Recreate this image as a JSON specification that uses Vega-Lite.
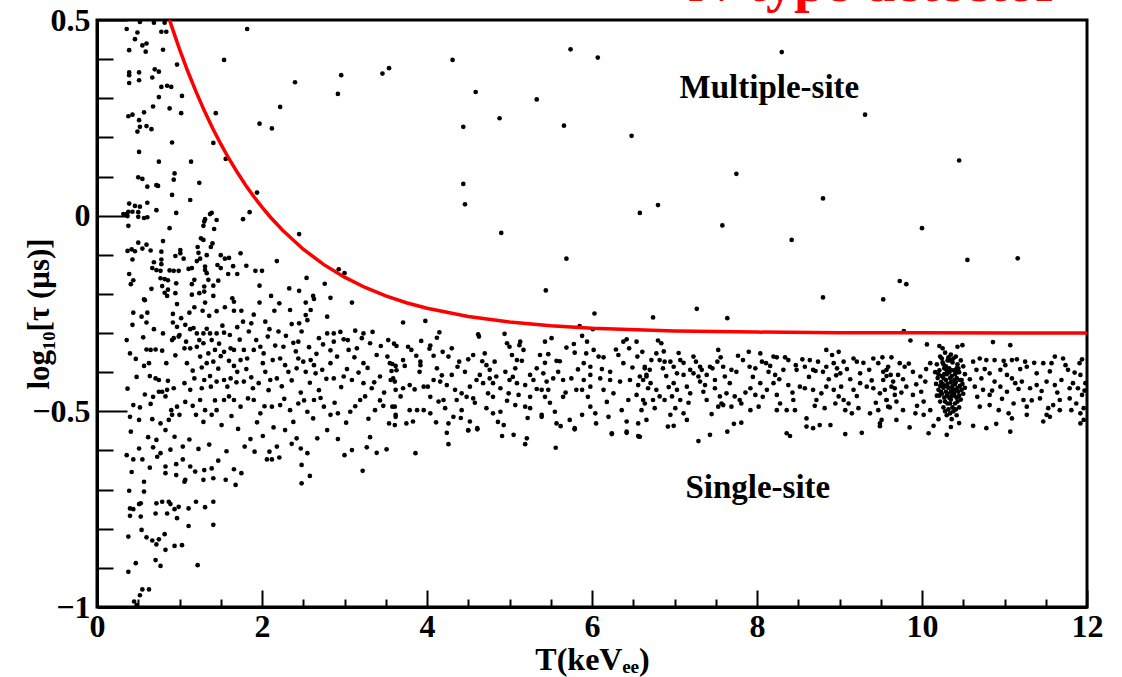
{
"$schema": "https://vega.github.io/schema/vega-lite/v6.json",
"width": 990, "height": 587,
"autosize": {"type": "none"},
"padding": {"left": 97, "top": 20, "right": 35, "bottom": 70},
"config": {"view": {"stroke": "black", "strokeWidth": 3}, "background": "white"},
"resolve": {"axis": {"x": "independent", "y": "independent"}},
"layer": [
{"data": {"values": [
{"t":1.82,"v":0.477},{"t":1.54,"v":0.398},{"t":2.40,"v":0.341},{"t":2.96,"v":0.359},{"t":2.92,"v":0.311},{"t":3.46,"v":0.363},{"t":3.54,"v":0.377},{"t":2.22,"v":0.278},{"t":1.97,"v":0.235},{"t":2.12,"v":0.223},{"t":1.44,"v":0.262},{"t":1.41,"v":0.186},{"t":1.56,"v":0.145},{"t":1.94,"v":0.059},{"t":1.85,"v":0.009},{"t":1.77,"v":-0.009},{"t":2.45,"v":-0.047},{"t":2.18,"v":-0.116},{"t":2.93,"v":-0.137},{"t":3.0,"v":-0.147},{"t":2.54,"v":-0.159},{"t":2.76,"v":-0.174},{"t":2.83,"v":-0.210},{"t":2.33,"v":-0.186},{"t":2.45,"v":-0.192},{"t":2.62,"v":-0.205},{"t":2.63,"v":-0.213},{"t":2.11,"v":-0.205},{"t":1.97,"v":-0.179},
{"t":0.36,"v":0.477},{"t":0.52,"v":0.495},{"t":0.69,"v":0.493},{"t":0.82,"v":0.493},{"t":0.49,"v":0.468},{"t":0.78,"v":0.470},{"t":0.84,"v":0.470},{"t":0.46,"v":0.451},{"t":0.55,"v":0.435},{"t":0.60,"v":0.440},{"t":0.39,"v":0.423},{"t":0.59,"v":0.419},{"t":0.80,"v":0.424},{"t":0.97,"v":0.386},{"t":0.39,"v":0.366},{"t":0.39,"v":0.359},{"t":0.39,"v":0.339},{"t":0.51,"v":0.366},{"t":0.51,"v":0.346},{"t":0.70,"v":0.374},{"t":0.75,"v":0.368},{"t":0.67,"v":0.353},{"t":0.78,"v":0.329},{"t":0.85,"v":0.332},{"t":0.90,"v":0.329},{"t":1.03,"v":0.306},{"t":0.75,"v":0.303},{"t":0.68,"v":0.279},{"t":0.88,"v":0.274},{"t":1.02,"v":0.262},{"t":0.38,"v":0.254},{"t":0.43,"v":0.258},{"t":0.57,"v":0.264},{"t":0.51,"v":0.244},{"t":0.52,"v":0.227},{"t":0.60,"v":0.229},{"t":0.66,"v":0.221},{"t":0.49,"v":0.215},{"t":0.91,"v":0.187},{"t":0.51,"v":0.163},{"t":0.75,"v":0.138},{"t":1.14,"v":0.138},{"t":0.94,"v":0.108},{"t":0.93,"v":0.092},{"t":0.50,"v":0.098},{"t":0.55,"v":0.094},{"t":0.61,"v":0.074},{"t":0.72,"v":0.078},{"t":0.74,"v":0.076},{"t":1.24,"v":0.084},{"t":0.91,"v":0.053},{"t":1.13,"v":0.040},{"t":0.39,"v":0.031},{"t":0.46,"v":0.025},{"t":0.52,"v":0.023},{"t":0.61,"v":0.033},{"t":0.72,"v":0.014},{"t":0.96,"v":0.007},{"t":0.32,"v":0.004},{"t":0.36,"v":0.004},{"t":0.38,"v":0.010},{"t":0.43,"v":0.010},{"t":0.50,"v":0.009},{"t":0.37,"v":-0.001},{"t":0.50,"v":-0.003},{"t":0.57,"v":-0.006},{"t":0.61,"v":-0.004},{"t":0.38,"v":-0.026},{"t":0.88,"v":-0.032},{"t":1.31,"v":-0.009},{"t":1.37,"v":0.004},{"t":1.39,"v":0.007},{"t":1.45,"v":-0.011},{"t":1.30,"v":-0.015},{"t":1.29,"v":-0.026},{"t":1.42,"v":-0.034},{"t":0.80,"v":-0.065},{"t":1.26,"v":-0.058},{"t":1.29,"v":-0.062},{"t":1.22,"v":-0.080},{"t":1.38,"v":-0.080},{"t":1.40,"v":-0.071},{"t":0.37,"v":-0.090},{"t":0.42,"v":-0.086},{"t":0.46,"v":-0.091},{"t":0.50,"v":-0.069},{"t":0.55,"v":-0.084},{"t":0.60,"v":-0.074},{"t":0.65,"v":-0.089},{"t":0.78,"v":-0.092},{"t":0.43,"v":-0.112},{"t":0.95,"v":-0.103},{"t":1.01,"v":-0.088},{"t":1.01,"v":-0.096},{"t":1.05,"v":-0.110},{"t":1.23,"v":-0.095},{"t":0.69,"v":-0.119},{"t":0.78,"v":-0.112},{"t":0.78,"v":-0.124},{"t":0.67,"v":-0.134},{"t":0.72,"v":-0.139},{"t":0.77,"v":-0.141},{"t":0.88,"v":-0.140},{"t":0.93,"v":-0.141},{"t":0.99,"v":-0.141},{"t":0.39,"v":-0.149},{"t":0.44,"v":-0.165},{"t":0.41,"v":-0.175},{"t":0.77,"v":-0.160},{"t":0.82,"v":-0.162},{"t":0.86,"v":-0.165},{"t":0.96,"v":-0.173},{"t":0.79,"v":-0.180},{"t":0.66,"v":-0.187},{"t":0.86,"v":-0.189},{"t":0.82,"v":-0.197},{"t":0.85,"v":-0.205},{"t":0.95,"v":-0.198},{"t":0.57,"v":-0.214},{"t":1.15,"v":-0.202},{"t":1.11,"v":-0.136},{"t":1.15,"v":-0.134},{"t":1.18,"v":-0.164},{"t":1.21,"v":-0.116},{"t":1.25,"v":-0.110},{"t":1.33,"v":-0.101},{"t":1.31,"v":-0.130},{"t":1.31,"v":-0.139},{"t":1.15,"v":-0.175},{"t":1.24,"v":-0.198},{"t":1.30,"v":-0.181},{"t":1.30,"v":-0.194},{"t":1.33,"v":-0.147},{"t":1.35,"v":-0.164},{"t":1.41,"v":-0.179},{"t":1.41,"v":-0.205},{"t":1.46,"v":-0.126},{"t":1.50,"v":-0.134},{"t":1.47,"v":-0.166},{"t":1.50,"v":-0.101},{"t":1.55,"v":-0.110},{"t":1.60,"v":-0.108},{"t":1.65,"v":-0.129},{"t":1.59,"v":-0.149},{"t":1.70,"v":-0.149},{"t":1.74,"v":-0.096},{"t":1.81,"v":-0.128},{"t":1.64,"v":-0.211},{"t":1.92,"v":-0.141},{"t":2.0,"v":-0.141},
{"t":0.58,"v":-0.216},{"t":0.97,"v":-0.226},{"t":1.31,"v":-0.222},{"t":1.66,"v":-0.220},{"t":1.97,"v":-0.222},{"t":2.21,"v":-0.224},{"t":2.53,"v":-0.222},{"t":3.09,"v":-0.222},{"t":0.44,"v":-0.248},{"t":0.54,"v":-0.258},{"t":0.61,"v":-0.248},{"t":0.92,"v":-0.251},{"t":1.12,"v":-0.248},{"t":1.18,"v":-0.234},{"t":1.28,"v":-0.243},{"t":1.36,"v":-0.256},{"t":1.45,"v":-0.244},{"t":1.55,"v":-0.234},{"t":1.66,"v":-0.243},{"t":1.75,"v":-0.243},{"t":1.90,"v":-0.253},{"t":2.15,"v":-0.243},{"t":2.34,"v":-0.241},{"t":2.53,"v":-0.254},{"t":2.59,"v":-0.241},
{"t":0.43,"v":-0.279},{"t":0.60,"v":-0.273},{"t":0.92,"v":-0.273},{"t":0.97,"v":-0.284},{"t":1.07,"v":-0.279},{"t":1.13,"v":-0.290},{"t":1.21,"v":-0.301},{"t":1.29,"v":-0.301},{"t":1.37,"v":-0.301},{"t":1.45,"v":-0.301},{"t":1.54,"v":-0.299},{"t":1.70,"v":-0.285},{"t":1.77,"v":-0.271},{"t":1.87,"v":-0.275},{"t":2.04,"v":-0.271},{"t":2.20,"v":-0.296},{"t":2.36,"v":-0.277},{"t":2.45,"v":-0.275},{"t":2.55,"v":-0.267},{"t":2.79,"v":-0.258},{"t":2.87,"v":-0.301},{"t":3.13,"v":-0.294},{"t":3.23,"v":-0.301},{"t":0.69,"v":-0.290},{"t":0.80,"v":-0.301},{"t":0.91,"v":-0.318},{"t":0.99,"v":-0.309},{"t":1.08,"v":-0.322},
{"t":0.40,"v":-0.352},{"t":0.60,"v":-0.342},{"t":0.65,"v":-0.343},{"t":0.71,"v":-0.342},{"t":0.79,"v":-0.345},{"t":0.93,"v":-0.313},{"t":1.00,"v":-0.305},{"t":1.06,"v":-0.339},{"t":1.13,"v":-0.339},{"t":1.21,"v":-0.335},{"t":1.29,"v":-0.326},{"t":1.39,"v":-0.318},{"t":1.43,"v":-0.343},{"t":1.54,"v":-0.348},{"t":1.62,"v":-0.339},{"t":1.66,"v":-0.343},{"t":1.78,"v":-0.343},{"t":1.90,"v":-0.343},{"t":1.98,"v":-0.335},{"t":2.09,"v":-0.290},{"t":2.13,"v":-0.369},{"t":2.22,"v":-0.365},{"t":2.26,"v":-0.335},{"t":2.38,"v":-0.325},{"t":2.44,"v":-0.322},{"t":2.50,"v":-0.373},{"t":2.59,"v":-0.369},{"t":2.69,"v":-0.313},{"t":2.79,"v":-0.301},{"t":2.87,"v":-0.322},{"t":2.99,"v":-0.316},{"t":3.05,"v":-0.343},{"t":3.15,"v":-0.339},{"t":3.23,"v":-0.377},{"t":3.31,"v":-0.326},{"t":3.39,"v":-0.356},{"t":3.52,"v":-0.360},{"t":3.58,"v":-0.379},{"t":0.57,"v":-0.384},{"t":0.63,"v":-0.377},{"t":1.25,"v":-0.360},{"t":1.35,"v":-0.352},{"t":1.41,"v":-0.373},{"t":1.50,"v":-0.359},{"t":1.60,"v":-0.371},{"t":1.66,"v":-0.384},{"t":1.74,"v":-0.369},{"t":1.82,"v":-0.365},{"t":1.33,"v":-0.377},{"t":2.28,"v":-0.382},{"t":2.44,"v":-0.365},{"t":2.63,"v":-0.382},{"t":2.83,"v":-0.377},{"t":2.91,"v":-0.360},
{"t":0.64,"v":-0.410},{"t":0.71,"v":-0.416},{"t":0.75,"v":-0.420},{"t":0.86,"v":-0.422},{"t":0.85,"v":-0.445},{"t":0.79,"v":-0.450},{"t":0.93,"v":-0.441},{"t":1.06,"v":-0.428},{"t":1.18,"v":-0.416},{"t":1.27,"v":-0.441},{"t":1.30,"v":-0.420},{"t":1.37,"v":-0.410},{"t":1.45,"v":-0.424},{"t":1.54,"v":-0.420},{"t":1.62,"v":-0.416},{"t":1.70,"v":-0.399},{"t":1.78,"v":-0.424},{"t":1.87,"v":-0.413},{"t":1.96,"v":-0.428},{"t":2.04,"v":-0.399},{"t":2.10,"v":-0.420},{"t":2.18,"v":-0.416},{"t":2.32,"v":-0.399},{"t":2.42,"v":-0.390},{"t":2.53,"v":-0.399},{"t":2.65,"v":-0.403},{"t":2.73,"v":-0.394},{"t":2.87,"v":-0.416},{"t":2.99,"v":-0.411},{"t":3.09,"v":-0.420},{"t":3.23,"v":-0.428},{"t":3.33,"v":-0.441},{"t":3.43,"v":-0.411},{"t":3.56,"v":-0.420},{"t":3.62,"v":-0.445},{"t":0.44,"v":-0.484},{"t":0.52,"v":-0.490},{"t":0.40,"v":-0.514},{"t":0.65,"v":-0.481},{"t":0.75,"v":-0.450},{"t":0.83,"v":-0.462},{"t":0.90,"v":-0.497},{"t":0.97,"v":-0.488},{"t":1.00,"v":-0.509},{"t":0.91,"v":-0.509},{"t":1.13,"v":-0.445},{"t":1.20,"v":-0.509},{"t":1.25,"v":-0.471},{"t":1.31,"v":-0.497},{"t":1.39,"v":-0.509},{"t":1.45,"v":-0.497},{"t":1.54,"v":-0.471},{"t":1.60,"v":-0.462},{"t":1.66,"v":-0.471},{"t":1.74,"v":-0.488},{"t":1.90,"v":-0.471},{"t":1.98,"v":-0.505},{"t":2.12,"v":-0.488},{"t":2.22,"v":-0.484},{"t":2.34,"v":-0.497},{"t":2.44,"v":-0.480},{"t":2.55,"v":-0.501},{"t":2.63,"v":-0.471},{"t":2.75,"v":-0.488},{"t":2.83,"v":-0.509},{"t":2.92,"v":-0.505},{"t":3.07,"v":-0.501},{"t":3.19,"v":-0.471},{"t":3.25,"v":-0.462},{"t":3.37,"v":-0.497},{"t":3.47,"v":-0.486},{"t":3.58,"v":-0.488},{"t":0.51,"v":-0.522},{"t":0.41,"v":-0.552},{"t":0.67,"v":-0.520},{"t":0.77,"v":-0.531},
{"t":0.44,"v":-0.623},{"t":0.55,"v":-0.623},{"t":0.64,"v":-0.644},{"t":0.73,"v":-0.616},{"t":0.77,"v":-0.607},{"t":0.83,"v":-0.641},{"t":0.83,"v":-0.658},{"t":0.96,"v":-0.635},{"t":1.04,"v":-0.623},{"t":0.96,"v":-0.663},{"t":1.07,"v":-0.675},{"t":1.13,"v":-0.641},{"t":1.19,"v":-0.654},{"t":1.30,"v":-0.650},{"t":1.29,"v":-0.675},{"t":1.39,"v":-0.646},{"t":1.41,"v":-0.671},{"t":1.47,"v":-0.626},{"t":1.56,"v":-0.675},{"t":1.66,"v":-0.648},{"t":1.68,"v":-0.688},{"t":1.75,"v":-0.658},{"t":1.79,"v":-0.590},{"t":1.91,"v":-0.603},{"t":2.01,"v":-0.563},{"t":2.09,"v":-0.603},{"t":2.12,"v":-0.623},{"t":2.06,"v":-0.623},{"t":2.18,"v":-0.590},{"t":2.28,"v":-0.548},{"t":2.42,"v":-0.569},{"t":2.47,"v":-0.595},{"t":2.48,"v":-0.637},{"t":2.58,"v":-0.665},{"t":2.48,"v":-0.684},{"t":2.55,"v":-0.607},{"t":2.67,"v":-0.569},{"t":2.79,"v":-0.548},{"t":3.00,"v":-0.612},{"t":3.09,"v":-0.599},{"t":3.22,"v":-0.652},{"t":3.27,"v":-0.592},{"t":3.39,"v":-0.606},{"t":3.51,"v":-0.597},{"t":0.51,"v":-0.595},{"t":0.57,"v":-0.680},{"t":0.72,"v":-0.573},{"t":0.83,"v":-0.548},{"t":0.94,"v":-0.565},{"t":1.04,"v":-0.590},{"t":1.06,"v":-0.680},
{"t":0.39,"v":-0.703},{"t":0.57,"v":-0.705},{"t":0.40,"v":-0.748},{"t":0.44,"v":-0.750},{"t":0.51,"v":-0.737},{"t":0.53,"v":-0.735},{"t":0.40,"v":-0.767},{"t":0.53,"v":-0.769},{"t":0.72,"v":-0.735},{"t":0.71,"v":-0.761},{"t":0.79,"v":-0.731},{"t":0.87,"v":-0.731},{"t":0.89,"v":-0.737},{"t":0.85,"v":-0.761},{"t":0.94,"v":-0.750},{"t":0.99,"v":-0.744},{"t":0.97,"v":-0.773},{"t":1.11,"v":-0.748},{"t":1.20,"v":-0.731},{"t":1.31,"v":-0.745},{"t":1.41,"v":-0.731},{"t":1.11,"v":-0.793},{"t":1.41,"v":-0.790},{"t":0.54,"v":-0.803},{"t":0.38,"v":-0.820},{"t":0.60,"v":-0.822},{"t":0.67,"v":-0.830},{"t":0.72,"v":-0.840},{"t":0.75,"v":-0.827},{"t":0.82,"v":-0.814},{"t":0.83,"v":-0.854},{"t":0.94,"v":-0.844},{"t":1.03,"v":-0.842},{"t":0.71,"v":-0.880},{"t":0.77,"v":-0.895},{"t":0.47,"v":-0.888},{"t":0.38,"v":-0.910},{"t":1.22,"v":-0.893},{"t":0.55,"v":-0.955},{"t":0.63,"v":-0.955},{"t":0.52,"v":-0.970},{"t":0.45,"v":-0.986},{"t":0.48,"v":-0.995},
{"t":4.31,"v":0.398},{"t":5.74,"v":0.425},{"t":6.07,"v":0.404},{"t":8.30,"v":0.418},{"t":4.59,"v":0.316},{"t":5.33,"v":0.297},{"t":4.88,"v":0.249},{"t":4.44,"v":0.227},{"t":5.66,"v":0.230},{"t":6.48,"v":0.204},{"t":9.31,"v":0.258},{"t":7.75,"v":0.107},{"t":10.45,"v":0.141},{"t":4.44,"v":0.081},{"t":4.46,"v":0.029},{"t":6.80,"v":0.027},{"t":6.58,"v":0.007},{"t":8.80,"v":0.044},{"t":4.90,"v":-0.044},{"t":7.58,"v":-0.025},{"t":8.42,"v":-0.062},{"t":10.0,"v":-0.032},{"t":10.55,"v":-0.113},{"t":11.16,"v":-0.109},{"t":5.69,"v":-0.110},{"t":9.73,"v":-0.167},{"t":9.81,"v":-0.175},{"t":5.44,"v":-0.191},{"t":8.80,"v":-0.209},{"t":9.53,"v":-0.214},{"t":6.03,"v":-0.250},{"t":6.74,"v":-0.260},{"t":7.27,"v":-0.238},{"t":7.64,"v":-0.262},{"t":3.71,"v":-0.273},{"t":3.98,"v":-0.269},
{"t":4.15,"v":-0.298},{"t":4.12,"v":-0.312},{"t":4.62,"v":-0.303},{"t":4.63,"v":-0.309},{"t":4.94,"v":-0.302},{"t":3.60,"v":-0.327},{"t":3.63,"v":-0.333},{"t":3.77,"v":-0.335},{"t":3.81,"v":-0.343},{"t":3.93,"v":-0.320},{"t":4.04,"v":-0.332},{"t":4.03,"v":-0.340},{"t":4.19,"v":-0.348},{"t":4.30,"v":-0.339},{"t":4.26,"v":-0.360},{"t":3.71,"v":-0.369},{"t":3.55,"v":-0.377},{"t":3.62,"v":-0.384},{"t":3.73,"v":-0.384},{"t":3.92,"v":-0.373},{"t":3.92,"v":-0.382},{"t":4.08,"v":-0.358},{"t":4.39,"v":-0.373},{"t":4.50,"v":-0.367},{"t":4.56,"v":-0.356},{"t":4.70,"v":-0.352},{"t":4.97,"v":-0.326},{"t":5.00,"v":-0.335},{"t":5.13,"v":-0.322},{"t":5.12,"v":-0.331},{"t":5.17,"v":-0.343},{"t":5.03,"v":-0.356},{"t":5.09,"v":-0.369},{"t":5.43,"v":-0.322},{"t":5.51,"v":-0.313},{"t":5.47,"v":-0.354},{"t":5.57,"v":-0.371},{"t":5.43,"v":-0.376},{"t":5.33,"v":-0.390},{"t":5.69,"v":-0.337},{"t":5.78,"v":-0.328},{"t":5.79,"v":-0.350},{"t":5.88,"v":-0.307},{"t":5.94,"v":-0.322},{"t":5.93,"v":-0.352},{"t":5.90,"v":-0.377},{"t":6.02,"v":-0.343},{"t":6.08,"v":-0.360},{"t":6.14,"v":-0.362},{"t":5.98,"v":-0.386},{"t":6.38,"v":-0.322},{"t":6.42,"v":-0.316},{"t":6.54,"v":-0.322},{"t":6.45,"v":-0.339},{"t":6.55,"v":-0.360},{"t":6.32,"v":-0.356},{"t":6.22,"v":-0.399},{"t":6.38,"v":-0.377},{"t":6.64,"v":-0.390},{"t":6.58,"v":-0.411},{"t":5.85,"v":-0.282},{"t":6.01,"v":-0.290},
{"t":3.59,"v":-0.416},{"t":3.61,"v":-0.424},{"t":3.71,"v":-0.441},{"t":3.79,"v":-0.433},{"t":3.85,"v":-0.444},{"t":3.96,"v":-0.437},{"t":4.08,"v":-0.420},{"t":4.16,"v":-0.424},{"t":4.24,"v":-0.433},{"t":4.34,"v":-0.445},{"t":4.42,"v":-0.454},{"t":4.52,"v":-0.437},{"t":4.60,"v":-0.420},{"t":4.68,"v":-0.428},{"t":4.76,"v":-0.416},{"t":4.84,"v":-0.411},{"t":4.80,"v":-0.428},{"t":4.89,"v":-0.441},{"t":5.00,"v":-0.420},{"t":5.09,"v":-0.428},{"t":5.19,"v":-0.433},{"t":5.29,"v":-0.420},{"t":5.41,"v":-0.403},{"t":5.45,"v":-0.424},{"t":5.53,"v":-0.416},{"t":5.65,"v":-0.420},{"t":5.75,"v":-0.416},{"t":5.90,"v":-0.420},{"t":5.98,"v":-0.407},{"t":6.10,"v":-0.416},{"t":6.22,"v":-0.420},{"t":6.34,"v":-0.424},{"t":6.46,"v":-0.420},{"t":6.56,"v":-0.433},{"t":6.66,"v":-0.411},
{"t":3.63,"v":-0.395},{"t":3.91,"v":-0.399},{"t":4.12,"v":-0.390},{"t":4.30,"v":-0.407},{"t":4.46,"v":-0.399},{"t":4.72,"v":-0.382},{"t":4.76,"v":-0.394},{"t":4.82,"v":-0.373},{"t":4.64,"v":-0.407},{"t":4.95,"v":-0.399},{"t":5.07,"v":-0.390},{"t":5.25,"v":-0.407},{"t":5.39,"v":-0.445},{"t":5.47,"v":-0.445},{"t":5.59,"v":-0.399},{"t":5.81,"v":-0.445},{"t":5.88,"v":-0.445},{"t":5.98,"v":-0.437},{"t":6.14,"v":-0.445},{"t":6.26,"v":-0.454},{"t":6.44,"v":-0.471},{"t":6.54,"v":-0.458},{"t":6.62,"v":-0.471},{"t":4.04,"v":-0.463},{"t":4.20,"v":-0.471},{"t":4.36,"v":-0.471},{"t":4.48,"v":-0.463},{"t":4.56,"v":-0.467},{"t":4.80,"v":-0.463},{"t":4.99,"v":-0.454},{"t":5.11,"v":-0.458},{"t":5.25,"v":-0.463},{"t":5.43,"v":-0.463},{"t":5.65,"v":-0.463},
{"t":3.61,"v":-0.488},{"t":3.62,"v":-0.514},{"t":3.61,"v":-0.535},{"t":3.79,"v":-0.497},{"t":3.83,"v":-0.526},{"t":3.75,"v":-0.531},{"t":3.96,"v":-0.497},{"t":4.04,"v":-0.505},{"t":4.14,"v":-0.475},{"t":4.22,"v":-0.492},{"t":4.32,"v":-0.514},{"t":4.26,"v":-0.531},{"t":4.42,"v":-0.497},{"t":4.52,"v":-0.526},{"t":4.50,"v":-0.548},{"t":4.61,"v":-0.543},{"t":4.72,"v":-0.492},{"t":4.80,"v":-0.505},{"t":4.89,"v":-0.501},{"t":4.93,"v":-0.535},{"t":5.07,"v":-0.484},{"t":5.19,"v":-0.488},{"t":5.25,"v":-0.492},{"t":5.39,"v":-0.509},{"t":5.39,"v":-0.514},{"t":5.55,"v":-0.501},{"t":5.57,"v":-0.531},{"t":5.62,"v":-0.538},{"t":5.73,"v":-0.522},{"t":5.79,"v":-0.543},{"t":5.88,"v":-0.509},{"t":5.98,"v":-0.488},{"t":6.04,"v":-0.505},{"t":6.20,"v":-0.514},{"t":6.24,"v":-0.556},{"t":6.42,"v":-0.526},{"t":6.42,"v":-0.552},{"t":6.56,"v":-0.531},{"t":6.56,"v":-0.563},{"t":3.62,"v":-0.509},{"t":3.88,"v":-0.497},
{"t":3.86,"v":-0.607},{"t":4.24,"v":-0.555},{"t":4.26,"v":-0.584},{"t":4.50,"v":-0.549},{"t":4.61,"v":-0.546},{"t":4.91,"v":-0.563},{"t":5.05,"v":-0.560},{"t":5.21,"v":-0.569},{"t":5.19,"v":-0.584},{"t":5.56,"v":-0.593},{"t":5.79,"v":-0.546},{"t":6.24,"v":-0.558},{"t":6.42,"v":-0.555},{"t":6.57,"v":-0.565},
{"t":6.80,"v":-0.319},{"t":6.84,"v":-0.326},{"t":6.78,"v":-0.352},{"t":6.72,"v":-0.369},{"t":6.82,"v":-0.369},{"t":6.88,"v":-0.373},{"t":6.95,"v":-0.373},{"t":6.64,"v":-0.386},{"t":6.70,"v":-0.394},{"t":6.66,"v":-0.407},{"t":6.86,"v":-0.390},{"t":6.99,"v":-0.386},{"t":7.07,"v":-0.369},{"t":7.11,"v":-0.376},{"t":7.23,"v":-0.360},{"t":7.19,"v":-0.394},{"t":7.11,"v":-0.407},{"t":7.31,"v":-0.386},{"t":7.33,"v":-0.394},{"t":7.43,"v":-0.386},{"t":7.46,"v":-0.390},{"t":7.53,"v":-0.343},{"t":7.52,"v":-0.373},{"t":7.59,"v":-0.386},{"t":7.69,"v":-0.394},{"t":7.83,"v":-0.369},{"t":7.90,"v":-0.348},{"t":7.91,"v":-0.386},{"t":8.04,"v":-0.352},{"t":8.06,"v":-0.373},{"t":8.11,"v":-0.377},{"t":8.20,"v":-0.360},{"t":8.24,"v":-0.362},{"t":8.14,"v":-0.399},{"t":8.22,"v":-0.407},{"t":8.38,"v":-0.369},{"t":8.47,"v":-0.382},{"t":8.48,"v":-0.394},{"t":8.58,"v":-0.386},{"t":8.64,"v":-0.369},{"t":8.74,"v":-0.373},{"t":8.84,"v":-0.343},{"t":8.91,"v":-0.356},{"t":8.99,"v":-0.348},{"t":8.93,"v":-0.377},{"t":9.05,"v":-0.373},{"t":8.97,"v":-0.390},{"t":9.01,"v":-0.403},{"t":9.17,"v":-0.365},{"t":9.21,"v":-0.373},{"t":9.41,"v":-0.365},{"t":9.47,"v":-0.377},{"t":9.53,"v":-0.399},{"t":9.59,"v":-0.386},{"t":9.57,"v":-0.410},{"t":9.36,"v":-0.394},{"t":9.25,"v":-0.403},{"t":8.84,"v":-0.386},{"t":8.80,"v":-0.399},{"t":8.68,"v":-0.394},{"t":8.32,"v":-0.394},{"t":7.98,"v":-0.390},{"t":7.75,"v":-0.399},{"t":7.61,"v":-0.411},{"t":7.49,"v":-0.420},{"t":7.39,"v":-0.407},{"t":7.29,"v":-0.411},{"t":7.23,"v":-0.403},{"t":7.03,"v":-0.403},{"t":6.90,"v":-0.410},
{"t":6.62,"v":-0.420},{"t":6.68,"v":-0.441},{"t":6.78,"v":-0.445},{"t":6.74,"v":-0.471},{"t":6.64,"v":-0.480},{"t":6.82,"v":-0.462},{"t":6.88,"v":-0.471},{"t":6.99,"v":-0.428},{"t":7.03,"v":-0.445},{"t":6.97,"v":-0.462},{"t":7.07,"v":-0.471},{"t":7.01,"v":-0.492},{"t":7.15,"v":-0.437},{"t":7.19,"v":-0.454},{"t":7.31,"v":-0.424},{"t":7.35,"v":-0.450},{"t":7.39,"v":-0.471},{"t":7.49,"v":-0.441},{"t":7.55,"v":-0.462},{"t":7.57,"v":-0.480},{"t":7.63,"v":-0.454},{"t":7.73,"v":-0.462},{"t":7.79,"v":-0.471},{"t":7.92,"v":-0.441},{"t":7.98,"v":-0.458},{"t":8.04,"v":-0.428},{"t":8.12,"v":-0.445},{"t":8.20,"v":-0.428},{"t":8.24,"v":-0.458},{"t":8.28,"v":-0.480},{"t":8.38,"v":-0.433},{"t":8.44,"v":-0.471},{"t":8.52,"v":-0.437},{"t":8.58,"v":-0.441},{"t":8.68,"v":-0.445},{"t":8.72,"v":-0.471},{"t":8.78,"v":-0.454},{"t":8.84,"v":-0.437},{"t":8.93,"v":-0.445},{"t":8.99,"v":-0.462},{"t":9.05,"v":-0.471},{"t":9.11,"v":-0.480},{"t":9.17,"v":-0.445},{"t":9.25,"v":-0.428},{"t":9.33,"v":-0.437},{"t":9.41,"v":-0.441},{"t":9.49,"v":-0.454},{"t":9.57,"v":-0.471},{"t":9.63,"v":-0.437},{"t":6.60,"v":-0.497},{"t":6.76,"v":-0.492},{"t":6.95,"v":-0.509},{"t":7.11,"v":-0.505},{"t":7.53,"v":-0.488},{"t":7.59,"v":-0.484},{"t":7.69,"v":-0.488},{"t":7.81,"v":-0.480},{"t":7.92,"v":-0.497},{"t":8.02,"v":-0.488},{"t":8.24,"v":-0.497},{"t":8.36,"v":-0.497},{"t":8.46,"v":-0.497},{"t":8.60,"v":-0.518},{"t":8.70,"v":-0.486},{"t":8.82,"v":-0.492},{"t":8.95,"v":-0.480},{"t":9.07,"v":-0.497},{"t":9.15,"v":-0.505},{"t":9.23,"v":-0.492},{"t":9.37,"v":-0.505},{"t":9.47,"v":-0.497},{"t":9.59,"v":-0.488},
{"t":6.66,"v":-0.522},{"t":6.92,"v":-0.539},{"t":6.99,"v":-0.537},{"t":7.15,"v":-0.522},{"t":7.43,"v":-0.560},{"t":7.64,"v":-0.552},{"t":7.72,"v":-0.532},{"t":7.81,"v":-0.529},{"t":8.36,"v":-0.556},{"t":8.40,"v":-0.563},{"t":8.60,"v":-0.539},{"t":8.68,"v":-0.543},{"t":8.76,"v":-0.535},{"t":8.89,"v":-0.535},{"t":9.07,"v":-0.558},{"t":9.27,"v":-0.555},{"t":9.49,"v":-0.538},{"t":9.49,"v":-0.531},{"t":7.29,"v":-0.576},{"t":6.58,"v":-0.565},
{"t":9.78,"v":-0.295},{"t":9.86,"v":-0.319},{"t":10.06,"v":-0.329},{"t":10.21,"v":-0.333},{"t":10.25,"v":-0.339},{"t":10.43,"v":-0.335},{"t":10.49,"v":-0.331},{"t":10.86,"v":-0.323},{"t":11.07,"v":-0.331},
{"t":9.63,"v":-0.362},{"t":9.73,"v":-0.377},{"t":9.79,"v":-0.386},{"t":9.57,"v":-0.394},{"t":9.71,"v":-0.407},{"t":9.53,"v":-0.420},{"t":9.65,"v":-0.424},{"t":9.77,"v":-0.418},{"t":9.89,"v":-0.399},{"t":9.98,"v":-0.411},{"t":10.04,"v":-0.424},{"t":10.10,"v":-0.377},{"t":9.55,"v":-0.445},{"t":9.67,"v":-0.441},{"t":9.81,"v":-0.437},{"t":9.89,"v":-0.458},{"t":9.99,"v":-0.450},{"t":9.57,"v":-0.471},{"t":9.69,"v":-0.475},{"t":9.61,"v":-0.490},{"t":9.77,"v":-0.497},{"t":9.94,"v":-0.486},{"t":10.02,"v":-0.475},{"t":10.10,"v":-0.497},{"t":9.51,"v":-0.522},{"t":9.69,"v":-0.522},{"t":9.85,"v":-0.541},{"t":10.08,"v":-0.556},{"t":10.14,"v":-0.537},{"t":10.02,"v":-0.509},{"t":9.92,"v":-0.505},{"t":9.67,"v":-0.458},
{"t":10.62,"v":-0.373},{"t":10.70,"v":-0.365},{"t":10.78,"v":-0.369},{"t":10.88,"v":-0.369},{"t":10.99,"v":-0.371},{"t":11.09,"v":-0.369},{"t":11.15,"v":-0.367},{"t":11.25,"v":-0.373},{"t":11.27,"v":-0.386},{"t":11.39,"v":-0.403},{"t":11.47,"v":-0.377},{"t":11.57,"v":-0.377},{"t":11.61,"v":-0.360},{"t":11.71,"v":-0.365},{"t":11.77,"v":-0.394},{"t":11.85,"v":-0.401},{"t":11.94,"v":-0.367},{"t":11.92,"v":-0.407},{"t":11.98,"v":-0.428},{"t":10.66,"v":-0.394},{"t":10.72,"v":-0.416},{"t":10.82,"v":-0.403},{"t":10.88,"v":-0.424},{"t":10.95,"v":-0.394},{"t":11.03,"v":-0.407},{"t":11.09,"v":-0.416},{"t":11.13,"v":-0.428},{"t":11.21,"v":-0.424},{"t":11.31,"v":-0.441},{"t":11.39,"v":-0.433},{"t":11.51,"v":-0.424},{"t":11.61,"v":-0.433},{"t":11.69,"v":-0.420},{"t":11.79,"v":-0.441},{"t":11.89,"v":-0.441},{"t":11.94,"v":-0.458},{"t":10.64,"v":-0.437},{"t":10.74,"v":-0.445},{"t":10.82,"v":-0.458},{"t":10.95,"v":-0.437},{"t":11.03,"v":-0.450},{"t":11.11,"v":-0.480},{"t":11.23,"v":-0.471},{"t":11.27,"v":-0.488},{"t":11.43,"v":-0.467},{"t":11.53,"v":-0.492},{"t":11.59,"v":-0.484},{"t":11.67,"v":-0.471},{"t":11.79,"v":-0.467},{"t":11.87,"v":-0.480},{"t":11.96,"v":-0.492},{"t":10.70,"v":-0.488},{"t":10.82,"v":-0.484},{"t":10.93,"v":-0.497},{"t":11.05,"v":-0.505},{"t":11.09,"v":-0.518},{"t":11.27,"v":-0.509},{"t":11.51,"v":-0.509},{"t":11.55,"v":-0.514},{"t":11.67,"v":-0.497},{"t":11.81,"v":-0.497},{"t":11.92,"v":-0.505},{"t":11.96,"v":-0.522},{"t":11.92,"v":-0.531},{"t":11.47,"v":-0.526},{"t":11.07,"v":-0.552},{"t":10.90,"v":-0.532},{"t":10.78,"v":-0.543},{"t":10.62,"v":-0.537},
{"t":10.22,"v":-0.36},{"t":10.28,"v":-0.35},{"t":10.35,"v":-0.355},{"t":10.41,"v":-0.36},{"t":10.47,"v":-0.37},{"t":10.18,"v":-0.38},{"t":10.25,"v":-0.375},{"t":10.31,"v":-0.37},{"t":10.37,"v":-0.375},{"t":10.43,"v":-0.38},{"t":10.50,"v":-0.385},{"t":10.16,"v":-0.40},{"t":10.21,"v":-0.395},{"t":10.27,"v":-0.39},{"t":10.33,"v":-0.39},{"t":10.39,"v":-0.395},{"t":10.45,"v":-0.40},{"t":10.52,"v":-0.405},{"t":10.19,"v":-0.415},{"t":10.24,"v":-0.41},{"t":10.30,"v":-0.405},{"t":10.36,"v":-0.41},{"t":10.42,"v":-0.415},{"t":10.48,"v":-0.42},{"t":10.17,"v":-0.43},{"t":10.23,"v":-0.425},{"t":10.29,"v":-0.42},{"t":10.35,"v":-0.425},{"t":10.40,"v":-0.43},{"t":10.46,"v":-0.435},{"t":10.52,"v":-0.44},{"t":10.20,"v":-0.445},{"t":10.26,"v":-0.44},{"t":10.32,"v":-0.44},{"t":10.38,"v":-0.445},{"t":10.44,"v":-0.45},{"t":10.50,"v":-0.455},{"t":10.18,"v":-0.46},{"t":10.24,"v":-0.455},{"t":10.30,"v":-0.46},{"t":10.36,"v":-0.46},{"t":10.42,"v":-0.465},{"t":10.47,"v":-0.47},{"t":10.22,"v":-0.475},{"t":10.28,"v":-0.475},{"t":10.34,"v":-0.48},{"t":10.40,"v":-0.48},{"t":10.45,"v":-0.49},{"t":10.26,"v":-0.49},{"t":10.32,"v":-0.495},{"t":10.38,"v":-0.50},{"t":10.30,"v":-0.51},{"t":10.36,"v":-0.52},{"t":10.42,"v":-0.51},{"t":10.33,"v":-0.40},{"t":10.27,"v":-0.405},{"t":10.39,"v":-0.42},{"t":10.31,"v":-0.43},{"t":10.37,"v":-0.435},{"t":10.29,"v":-0.45},{"t":10.35,"v":-0.45},{"t":10.41,"v":-0.445},{"t":10.33,"v":-0.465},{"t":10.39,"v":-0.46},{"t":10.25,"v":-0.43},{"t":10.43,"v":-0.40},{"t":10.34,"v":-0.37},{"t":10.29,"v":-0.385},{"t":10.40,"v":-0.405},{"t":10.46,"v":-0.42},{"t":10.21,"v":-0.46},{"t":10.35,"v":-0.54},{"t":10.30,"v":-0.56},{"t":10.45,"v":-0.53},{"t":10.20,"v":-0.52},
{"t":1.02,"v":-0.262},{"t":1.17,"v":-0.287},{"t":1.24,"v":-0.318},{"t":1.33,"v":-0.289},{"t":1.48,"v":-0.327},{"t":1.52,"v":-0.281},{"t":1.61,"v":-0.305},{"t":1.73,"v":-0.317},{"t":1.84,"v":-0.296},{"t":1.93,"v":-0.318},{"t":2.02,"v":-0.352},{"t":2.07,"v":-0.309},{"t":2.16,"v":-0.332},{"t":2.29,"v":-0.307},{"t":2.41,"v":-0.347},{"t":2.48,"v":-0.296},{"t":2.57,"v":-0.336},{"t":2.66,"v":-0.353},{"t":2.74,"v":-0.329},{"t":2.83,"v":-0.344},{"t":2.95,"v":-0.297},{"t":3.04,"v":-0.318},{"t":3.12,"v":-0.362},{"t":3.21,"v":-0.313},{"t":3.34,"v":-0.297},{"t":3.44,"v":-0.333},{"t":3.53,"v":-0.318},
{"t":1.09,"v":-0.377},{"t":1.16,"v":-0.396},{"t":1.27,"v":-0.388},{"t":1.38,"v":-0.437},{"t":1.47,"v":-0.391},{"t":1.58,"v":-0.437},{"t":1.69,"v":-0.426},{"t":1.81,"v":-0.392},{"t":1.89,"v":-0.441},{"t":2.01,"v":-0.377},{"t":2.08,"v":-0.446},{"t":2.24,"v":-0.436},{"t":2.36,"v":-0.421},{"t":2.47,"v":-0.452},{"t":2.58,"v":-0.427},{"t":2.69,"v":-0.446},{"t":2.78,"v":-0.417},{"t":2.96,"v":-0.438},{"t":3.03,"v":-0.392},{"t":3.17,"v":-0.401},{"t":3.28,"v":-0.389},{"t":3.36,"v":-0.426},{"t":3.48,"v":-0.452},{"t":3.57,"v":-0.397},
{"t":1.07,"v":-0.476},{"t":1.16,"v":-0.486},{"t":1.29,"v":-0.527},{"t":1.43,"v":-0.472},{"t":1.51,"v":-0.535},{"t":1.63,"v":-0.512},{"t":1.71,"v":-0.545},{"t":1.83,"v":-0.467},{"t":1.94,"v":-0.528},{"t":2.03,"v":-0.487},{"t":2.14,"v":-0.541},{"t":2.27,"v":-0.468},{"t":2.38,"v":-0.527},{"t":2.51,"v":-0.472},{"t":2.62,"v":-0.518},{"t":2.71,"v":-0.466},{"t":2.88,"v":-0.478},{"t":3.02,"v":-0.529},{"t":3.13,"v":-0.487},{"t":3.29,"v":-0.519},{"t":3.43,"v":-0.472},{"t":3.54,"v":-0.531},
{"t":1.12,"v":-0.572},{"t":1.23,"v":-0.596},{"t":1.36,"v":-0.585},{"t":1.57,"v":-0.602},{"t":1.86,"v":-0.571},{"t":2.21,"v":-0.618},{"t":2.36,"v":-0.583},{"t":2.92,"v":-0.571},{"t":3.31,"v":-0.566},
{"t":0.36,"v":-0.318},{"t":0.47,"v":-0.366},{"t":0.56,"v":-0.311},{"t":0.84,"v":-0.377},{"t":0.95,"v":-0.357},{"t":0.37,"v":-0.442},{"t":0.48,"v":-0.412},{"t":0.58,"v":-0.457},{"t":0.68,"v":-0.463},{"t":0.87,"v":-0.522},{"t":0.62,"v":-0.566},{"t":0.42,"v":-0.655},{"t":0.68,"v":-0.592},{"t":0.89,"v":-0.598},{"t":0.36,"v":-0.612},
{"t":3.68,"v":-0.462},{"t":3.87,"v":-0.358},{"t":4.01,"v":-0.437},{"t":4.11,"v":-0.528},{"t":4.18,"v":-0.408},{"t":4.37,"v":-0.386},{"t":4.41,"v":-0.517},{"t":4.58,"v":-0.478},{"t":4.67,"v":-0.372},{"t":4.74,"v":-0.454},{"t":4.86,"v":-0.527},{"t":4.97,"v":-0.473},{"t":5.04,"v":-0.412},{"t":5.15,"v":-0.371},{"t":5.22,"v":-0.517},{"t":5.33,"v":-0.443},{"t":5.37,"v":-0.356},{"t":5.49,"v":-0.478},{"t":5.61,"v":-0.372},{"t":5.68,"v":-0.452},{"t":5.83,"v":-0.393},{"t":5.95,"v":-0.463},{"t":6.05,"v":-0.531},{"t":6.12,"v":-0.392},{"t":6.18,"v":-0.476},{"t":6.29,"v":-0.342},{"t":6.36,"v":-0.497},{"t":6.49,"v":-0.388},{"t":6.61,"v":-0.348},{"t":6.71,"v":-0.428},{"t":6.87,"v":-0.347},{"t":6.93,"v":-0.438},{"t":7.05,"v":-0.351},{"t":7.17,"v":-0.478},{"t":7.26,"v":-0.373},{"t":7.37,"v":-0.433},{"t":7.45,"v":-0.507},{"t":7.56,"v":-0.362},{"t":7.67,"v":-0.428},{"t":7.77,"v":-0.358},{"t":7.86,"v":-0.452},{"t":7.95,"v":-0.412},{"t":8.07,"v":-0.463},{"t":8.16,"v":-0.384},{"t":8.27,"v":-0.418},{"t":8.34,"v":-0.362},{"t":8.43,"v":-0.452},{"t":8.55,"v":-0.367},{"t":8.63,"v":-0.412},{"t":8.71,"v":-0.397},{"t":8.87,"v":-0.418},{"t":8.96,"v":-0.408},{"t":9.02,"v":-0.437},{"t":9.09,"v":-0.392},{"t":9.13,"v":-0.418},{"t":9.21,"v":-0.461},{"t":9.29,"v":-0.376},{"t":9.39,"v":-0.421},{"t":9.44,"v":-0.478},{"t":9.52,"v":-0.362},
{"t":9.62,"v":-0.407},{"t":9.75,"v":-0.452},{"t":9.84,"v":-0.378},{"t":9.93,"v":-0.431},{"t":10.05,"v":-0.392},{"t":10.58,"v":-0.418},{"t":10.67,"v":-0.463},{"t":10.76,"v":-0.392},{"t":10.85,"v":-0.447},{"t":10.97,"v":-0.468},{"t":11.01,"v":-0.382},{"t":11.17,"v":-0.443},{"t":11.19,"v":-0.392},{"t":11.33,"v":-0.472},{"t":11.36,"v":-0.376},{"t":11.45,"v":-0.448},{"t":11.55,"v":-0.398},{"t":11.64,"v":-0.452},{"t":11.74,"v":-0.382},{"t":11.83,"v":-0.428},{"t":11.91,"v":-0.377},{"t":11.97,"v":-0.447},
{"t":10.24,"v":-0.365},{"t":10.32,"v":-0.362},{"t":10.38,"v":-0.365},{"t":10.44,"v":-0.39},{"t":10.20,"v":-0.405},{"t":10.26,"v":-0.415},{"t":10.34,"v":-0.415},{"t":10.41,"v":-0.425},{"t":10.49,"v":-0.43},{"t":10.22,"v":-0.435},{"t":10.28,"v":-0.435},{"t":10.36,"v":-0.44},{"t":10.43,"v":-0.44},{"t":10.48,"v":-0.445},{"t":10.23,"v":-0.45},{"t":10.31,"v":-0.455},{"t":10.39,"v":-0.455},{"t":10.45,"v":-0.46},{"t":10.27,"v":-0.465},{"t":10.35,"v":-0.47},{"t":10.43,"v":-0.475},{"t":10.31,"v":-0.48},{"t":10.37,"v":-0.49},{"t":10.28,"v":-0.50},{"t":10.41,"v":-0.495},{"t":10.34,"v":-0.505},{"t":10.36,"v":-0.395},{"t":10.30,"v":-0.395},{"t":10.42,"v":-0.39},{"t":10.26,"v":-0.38}
]},
"mark": {"type": "circle", "size": 22, "color": "black", "opacity": 1},
"encoding": {
"x": {"field": "t", "type": "quantitative", "scale": {"domain": [0, 12], "nice": false, "zero": false},
 "axis": {"orient": "bottom", "values": [0, 2, 4, 6, 8, 10, 12], "format": "d", "tickSize": -17, "tickWidth": 2, "tickColor": "black", "domainWidth": 3, "domainColor": "black", "grid": false, "labelFont": "Liberation Serif", "labelFontWeight": "bold", "labelFontSize": 32, "labelColor": "black", "labelPadding": 21, "labelFlush": false, "labelOverlap": false, "title": "T(keVₑₑ)", "titleFont": "Liberation Serif", "titleFontSize": 32, "titleFontWeight": "bold", "titleColor": "black", "titlePadding": 2}},
"y": {"field": "v", "type": "quantitative", "scale": {"domain": [-1, 0.5], "nice": false, "zero": false},
 "axis": {"orient": "left", "values": [-1, -0.5, 0, 0.5], "format": "~g", "tickSize": -30, "tickWidth": 2, "tickColor": "black", "domainWidth": 3, "domainColor": "black", "grid": false, "labelFont": "Liberation Serif", "labelFontWeight": "bold", "labelFontSize": 32, "labelColor": "black", "labelPadding": 37, "labelFlush": false, "labelOverlap": false, "title": "log₁₀[τ (μs)]", "titleFont": "Liberation Serif", "titleFontSize": 31, "titleFontWeight": "bold", "titleColor": "black", "titlePadding": -24}}
}},
{"data": {"values": [
{"t":0.88,"v":0.5},{"t":0.9,"v":0.487},{"t":1.0,"v":0.4256},{"t":1.1,"v":0.369},{"t":1.2,"v":0.3168},{"t":1.3,"v":0.2685},{"t":1.4,"v":0.2242},{"t":1.5,"v":0.1833},{"t":1.6,"v":0.1455},{"t":1.7,"v":0.1108},{"t":1.8,"v":0.0786},{"t":1.9,"v":0.0491},{"t":2.0,"v":0.0218},{"t":2.1,"v":-0.0034},{"t":2.25,"v":-0.0374},{"t":2.5,"v":-0.0857},{"t":2.75,"v":-0.1251},{"t":3.0,"v":-0.1572},{"t":3.25,"v":-0.1835},{"t":3.5,"v":-0.2049},{"t":3.75,"v":-0.2224},{"t":4.0,"v":-0.2367},{"t":4.5,"v":-0.2578},{"t":5.0,"v":-0.2719},{"t":5.5,"v":-0.2813},{"t":6.0,"v":-0.2876},{"t":7.0,"v":-0.2945},{"t":8.0,"v":-0.2975},{"t":9.0,"v":-0.2989},{"t":10.0,"v":-0.2995},{"t":12.0,"v":-0.2999}
]},
"mark": {"type": "line", "color": "#ff0000", "strokeWidth": 3.5, "clip": true},
"encoding": {
"x": {"field": "t", "type": "quantitative", "axis": {"orient": "bottom", "values": [0.5,1,1.5,2.5,3,3.5,4.5,5,5.5,6.5,7,7.5,8.5,9,9.5,10.5,11,11.5], "tickSize": -8, "tickWidth": 2, "tickColor": "black", "domain": false, "labels": false, "grid": false, "title": null}},
"y": {"field": "v", "type": "quantitative", "axis": {"orient": "left", "values": [-0.9,-0.8,-0.7,-0.6,-0.4,-0.3,-0.2,-0.1,0.1,0.2,0.3,0.4], "tickSize": -16, "tickWidth": 2, "tickColor": "black", "domain": false, "labels": false, "grid": false, "title": null}}
}},
{"data": {"values": [{"t": 8.15, "v": 0.326, "label": "Multiple-site"}, {"t": 8.01, "v": -0.696, "label": "Single-site"}]},
"mark": {"type": "text", "font": "Liberation Serif", "fontWeight": "bold", "fontSize": 33, "color": "black", "align": "center", "baseline": "middle"},
"encoding": {
"x": {"field": "t", "type": "quantitative", "axis": null},
"y": {"field": "v", "type": "quantitative", "axis": null},
"text": {"field": "label", "type": "nominal"}
}},
{"data": {"values": [{"t": 11.67, "v": 0.549, "label": "N-type detector"}]},
"mark": {"type": "text", "font": "Liberation Serif", "fontWeight": "bold", "fontSize": 56, "color": "#ff0000", "align": "right", "baseline": "alphabetic", "clip": false},
"encoding": {
"x": {"field": "t", "type": "quantitative", "axis": null},
"y": {"field": "v", "type": "quantitative", "axis": null},
"text": {"field": "label", "type": "nominal"}
}}
]
}
